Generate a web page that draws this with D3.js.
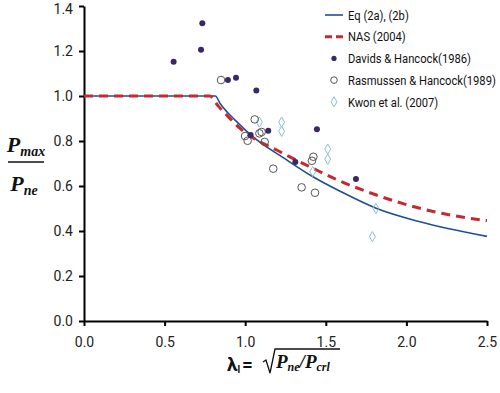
<!DOCTYPE html>
<html>
<head>
<meta charset="utf-8">
<script src="https://cdn.jsdelivr.net/npm/d3@7"></script>
<style>
  body { margin: 0; background: #fff; }
  svg { display: block; }
</style>
</head>
<body>
<div id="chart"></div>
<script>
// design curves
const eqLambda = [0, 0.815, 0.844, 0.895, 0.937, 1.034, 1.257, 1.423, 1.588, 1.816, 2.084, 2.5];
const eqValue = [1.0, 1.0, 0.967, 0.923, 0.893, 0.827, 0.716, 0.640, 0.577, 0.5, 0.441, 0.376];
const nasLambda = [0, 0.78, 0.833, 0.895, 0.968, 1.216, 1.423, 1.578, 1.774, 2.084, 2.467, 2.5];
const nasValue = [1.0, 1.0, 0.955, 0.908, 0.856, 0.752, 0.678, 0.625, 0.570, 0.501, 0.449, 0.446];

// test data
const davidsLambda = [0.556, 0.726, 0.734, 0.893, 0.943, 1.069, 1.034, 1.143, 1.445, 1.311, 1.687];
const davidsValue = [1.152, 1.206, 1.323, 1.071, 1.081, 1.025, 0.827, 0.846, 0.852, 0.707, 0.631];
const rasLambda = [0.85, 1.059, 0.999, 1.015, 1.088, 1.102, 1.121, 1.174, 1.423, 1.414, 1.35, 1.433];
const rasValue = [1.071, 0.896, 0.822, 0.801, 0.834, 0.84, 0.796, 0.677, 0.73, 0.712, 0.594, 0.57];
const kwonLambda = [1.088, 1.226, 1.226, 1.512, 1.512, 1.419, 1.811, 1.789];
const kwonValue = [0.884, 0.884, 0.843, 0.764, 0.719, 0.664, 0.5, 0.375];

const xTicks = [0, 0.5, 1.0, 1.5, 2.0, 2.5];
const yTicks = [0, 0.2, 0.4, 0.6, 0.8, 1.0, 1.2, 1.4];
const legendLabels = ["Eq (2a), (2b)", "NAS (2004)", "Davids & Hancock(1986)", "Rasmussen & Hancock(1989)", "Kwon et al. (2007)"];

const w = 500, h = 393;
const margins = { top: 6, left: 84, bottom: 72, right: 13 };

const sans = "Roboto, 'Open Sans', sans-serif";
const serif = "'Liberation Serif', 'DejaVu Serif', serif";

const zip = (xs, ys) => xs.map((x, i) => ({ x: x, y: ys[i] }));

const svg = d3.select("#chart").append("svg").attr("width", w).attr("height", h);

const x = d3.scaleLinear().domain([0, 2.5]).range([margins.left, w - margins.right]);
const y = d3.scaleLinear().domain([0, 1.4]).range([h - margins.bottom, margins.top]);

// axes
const xAxis = d3.axisBottom(x).tickValues(xTicks).tickFormat(d3.format(".1f")).tickSize(5).tickPadding(11).tickSizeOuter(0);
const yAxis = d3.axisLeft(y).tickValues(yTicks).tickFormat(d3.format(".1f")).tickSize(5).tickPadding(6).tickSizeOuter(0);

const gx = svg.append("g").attr("transform", `translate(0,${y(0)})`).call(xAxis);
const gy = svg.append("g").attr("transform", `translate(${x(0)},0)`).call(yAxis);

[gx, gy].forEach((g) => {
  g.select(".domain").attr("stroke", "#000").attr("stroke-width", 2);
  g.selectAll(".tick line").attr("stroke", "#000").attr("stroke-width", 2);
  g.selectAll(".tick text").attr("font-family", sans).attr("font-size", "14px").attr("fill", "#222");
});
// top label sits right at the edge, nudge it inside
gy.selectAll(".tick text").filter((d) => d === 1.4).attr("dy", "0.5em");

// curves
const line = d3.line().x((d) => x(d.x)).y((d) => y(d.y)).curve(d3.curveMonotoneX);

svg.append("path")
  .datum(zip(eqLambda, eqValue))
  .attr("d", line)
  .attr("fill", "none")
  .attr("stroke", "#1f4f94")
  .attr("stroke-width", 1.6);

svg.append("path")
  .datum(zip(nasLambda, nasValue))
  .attr("d", line)
  .attr("fill", "none")
  .attr("stroke", "#c62a2f")
  .attr("stroke-width", 3)
  .attr("stroke-dasharray", "9,6");

// points
const diamond = d3.symbol().type(d3.symbolDiamond).size(30);

svg.append("g").selectAll("path")
  .data(zip(kwonLambda, kwonValue))
  .enter()
  .append("path")
  .attr("d", diamond)
  .attr("transform", (d) => `translate(${x(d.x)},${y(d.y)})`)
  .attr("fill", "none")
  .attr("stroke", "#86c1d2")
  .attr("stroke-width", 1);

svg.append("g").selectAll("circle")
  .data(zip(rasLambda, rasValue))
  .enter()
  .append("circle")
  .attr("cx", (d) => x(d.x))
  .attr("cy", (d) => y(d.y))
  .attr("r", 3.8)
  .attr("fill", "none")
  .attr("stroke", "#555")
  .attr("stroke-width", 1);

svg.append("g").selectAll("circle")
  .data(zip(davidsLambda, davidsValue))
  .enter()
  .append("circle")
  .attr("cx", (d) => x(d.x))
  .attr("cy", (d) => y(d.y))
  .attr("r", 3)
  .attr("fill", "#3a2767");

// legend
const legend = svg.append("g").attr("transform", "translate(325,15)");
const rowH = 21.7;

const labelG = legend.append("g").attr("transform", "translate(23,0)");
labelG.selectAll("text")
  .data(legendLabels)
  .enter()
  .append("text")
  .attr("x", 0)
  .attr("y", (d, i) => i * rowH)
  .attr("dy", "0.35em")
  .attr("font-family", sans)
  .attr("font-size", "13.5px")
  .attr("fill", "#111")
  .text((d) => d);

// the original uses a narrow font, squeeze the labels so the widest fits
let widest = 0;
labelG.selectAll("text").each(function () {
  widest = Math.max(widest, this.getComputedTextLength());
});
const squeeze = Math.min(1, 148 / widest);
labelG.attr("transform", `translate(23,0) scale(${squeeze},1)`);

legend.append("line")
  .attr("x1", 0).attr("x2", 18).attr("y1", 0).attr("y2", 0)
  .attr("stroke", "#1f4f94").attr("stroke-width", 1.6);
legend.append("line")
  .attr("x1", 0).attr("x2", 18).attr("y1", rowH).attr("y2", rowH)
  .attr("stroke", "#c62a2f").attr("stroke-width", 3).attr("stroke-dasharray", "7,4");
legend.append("circle")
  .attr("cx", 9).attr("cy", rowH * 2).attr("r", 2.6).attr("fill", "#3a2767");
legend.append("circle")
  .attr("cx", 9).attr("cy", rowH * 3).attr("r", 3.3)
  .attr("fill", "none").attr("stroke", "#555").attr("stroke-width", 1);
legend.append("path")
  .attr("d", diamond)
  .attr("transform", `translate(9,${rowH * 4})`)
  .attr("fill", "none").attr("stroke", "#86c1d2").attr("stroke-width", 1);

// y axis title: Pmax / Pne
const yt = svg.append("g").attr("transform", "translate(26,0)")
  .attr("font-family", serif).attr("font-weight", "bold").attr("font-style", "italic").attr("fill", "#111");
const num = yt.append("text").attr("x", 0).attr("y", 152).attr("text-anchor", "middle");
num.append("tspan").attr("font-size", "22px").text("P");
num.append("tspan").attr("font-size", "14px").attr("dy", 4).text("max");
yt.append("line").attr("x1", -18).attr("x2", 18).attr("y1", 162).attr("y2", 162)
  .attr("stroke", "#111").attr("stroke-width", 1.5);
const den = yt.append("text").attr("x", -2).attr("y", 191).attr("text-anchor", "middle");
den.append("tspan").attr("font-size", "22px").text("P");
den.append("tspan").attr("font-size", "14px").attr("dy", 4).text("ne");

// x axis title: λl = sqrt(Pne / Pcrl)
const xt = svg.append("g").attr("fill", "#111");
xt.append("text").attr("x", 227).attr("y", 371)
  .attr("font-family", sans).attr("font-weight", "bold").attr("font-size", "19px")
  .call((t) => {
    t.append("tspan").text("λ");
    t.append("tspan").attr("font-size", "10px").attr("dy", 2).text("l");
    t.append("tspan").attr("dy", -2).attr("dx", 2).text("=");
  });
xt.append("path")
  .attr("d", "M263,362 L266,360 L270,373 L275,349 L340,349")
  .attr("fill", "none").attr("stroke", "#111").attr("stroke-width", 1.3);
xt.append("text").attr("x", 276).attr("y", 368)
  .attr("font-family", serif).attr("font-weight", "bold").attr("font-style", "italic").attr("font-size", "19px")
  .call((t) => {
    t.append("tspan").text("P");
    t.append("tspan").attr("font-size", "12px").attr("dy", 3).text("ne");
    t.append("tspan").attr("dy", -3).attr("font-size", "19px").text("/P");
    t.append("tspan").attr("font-size", "12px").attr("dy", 3).text("crl");
  });
</script>
</body>
</html>
